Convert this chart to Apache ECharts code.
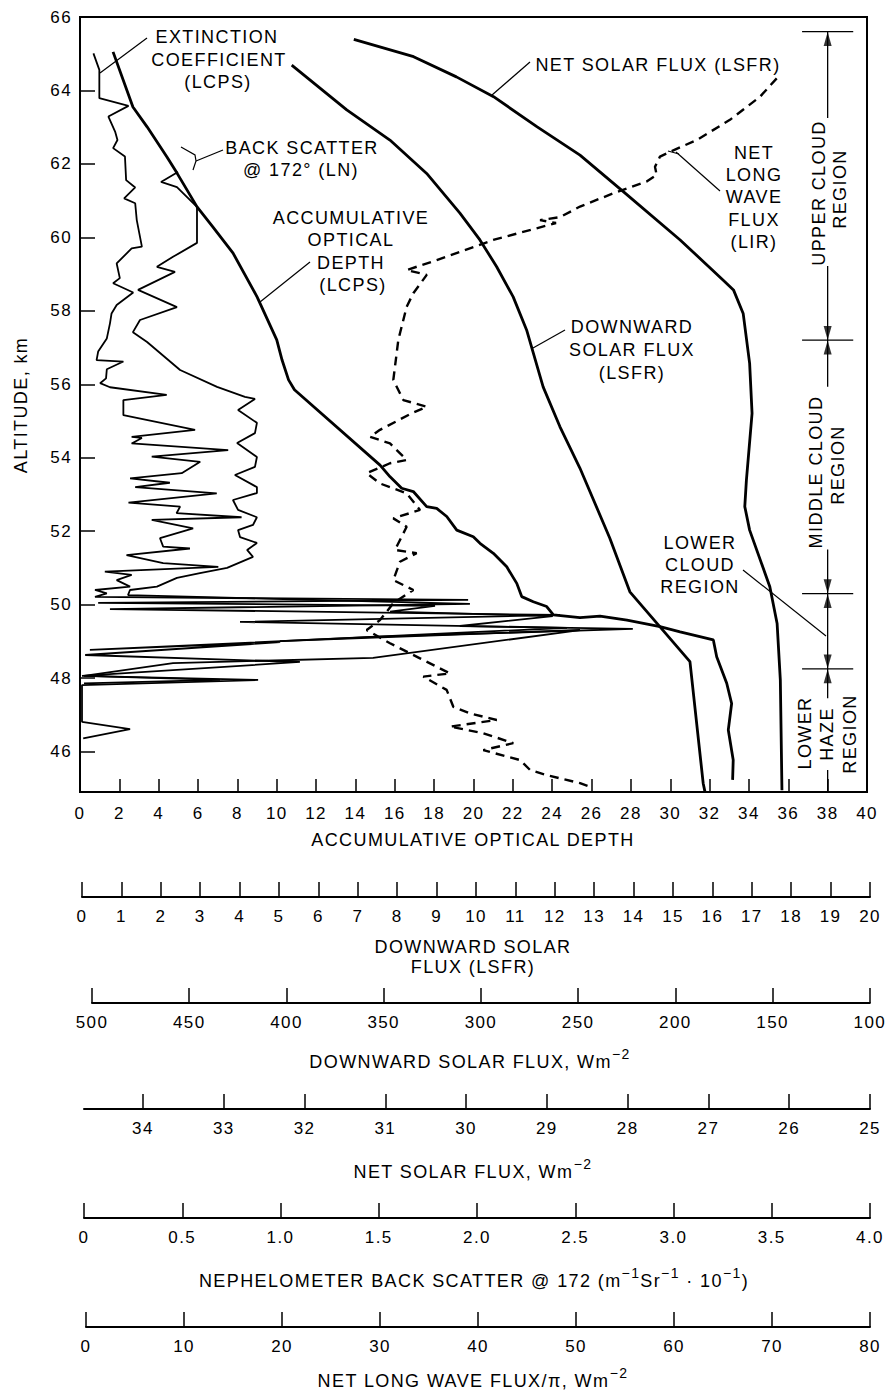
<!DOCTYPE html>
<html><head><meta charset="utf-8">
<script src="https://cdn.jsdelivr.net/npm/echarts@6/dist/echarts.min.js"></script>
<style>
html,body{margin:0;padding:0;background:#fff;}
#c{width:887px;height:1391px;}
#c svg text{letter-spacing:1.4px;}
</style></head><body><div id="c"></div>
<script>
// ---------- tick values ----------
const altitudeTicks = [46,48,50,52,54,56,58,60,62,64,66];
const opticalDepthTicks = [0,2,4,6,8,10,12,14,16,18,20,22,24,26,28,30,32,34,36,38,40];
const extinctionTicks = [0,1,2,3,4,5,6,7,8,9,10,11,12,13,14,15,16,17,18,19,20];
const downwardFluxTicks = [500,450,400,350,300,250,200,150,100];
const netSolarTicks = [34,33,32,31,30,29,28,27,26,25];
const backScatterTicks = [0,0.5,1.0,1.5,2.0,2.5,3.0,3.5,4.0];
const longWaveTicks = [0,10,20,30,40,50,60,70,80];

// ---------- series: [value, altitude km] ----------
const extinctionCoef = [[0.29,65.01],[0.44,64.56],[0.44,63.79],[1.18,63.58],[0.67,63.29],[0.84,62.88],[0.90,62.65],[0.79,62.43],[1.09,62.20],[1.12,61.56],[1.35,61.36],[1.07,61.06],[1.35,60.93],[1.39,60.47],[1.52,59.75],[1.26,59.70],[0.88,59.29],[0.96,58.89],[0.79,58.75],[1.30,58.50],[0.88,58.16],[0.75,57.93],[0.71,57.66],[0.63,57.25],[0.41,56.89],[0.37,56.66],[1.05,56.62],[0.63,56.41],[0.61,56.16],[0.46,56.03],[0.71,55.92],[2.15,55.71],[1.05,55.57],[1.05,55.16],[2.87,54.76],[1.26,54.57],[1.52,54.54],[1.26,54.39],[3.71,54.21],[1.77,54.03],[3.00,53.89],[2.53,53.58],[1.22,53.44],[2.23,53.32],[1.35,53.20],[3.42,53.03],[1.18,52.78],[2.49,52.67],[2.40,52.49],[4.05,52.38],[1.77,52.31],[2.82,52.08],[1.98,51.81],[2.06,51.58],[2.74,51.53],[1.13,51.35],[2.06,51.13],[3.46,51.03],[0.58,50.90],[1.26,50.81],[0.88,50.67],[1.22,50.49],[0.33,50.40],[0.63,50.31],[0.33,50.21],[9.80,50.13],[0.41,50.05],[8.96,49.97],[7.82,49.81],[11.95,49.69],[9.59,49.42],[13.98,49.34],[7.56,49.13],[0.20,48.77],[5.03,48.98],[0.08,48.63],[5.53,48.44],[0,48.06],[4.47,47.95],[0,47.81],[0,46.81],[1.22,46.61],[0.03,46.36]];
const backScatter = [[0.478,61.78],[0.392,61.51],[0.473,61.37],[0.575,60.83],[0.575,59.85],[0.453,59.47],[0.371,59.20],[0.463,59.06],[0.275,58.57],[0.473,58.10],[0.285,57.75],[0.249,57.42],[0.321,57.15],[0.489,56.39],[0.677,55.93],[0.819,55.66],[0.870,55.60],[0.784,55.30],[0.880,54.95],[0.870,54.67],[0.779,54.40],[0.880,54.02],[0.870,53.75],[0.768,53.53],[0.880,53.20],[0.880,53.04],[0.758,52.85],[0.784,52.58],[0.880,52.38],[0.860,52.17],[0.784,52.03],[0.794,51.84],[0.880,51.68],[0.830,51.49],[0.860,51.30],[0.728,51.00],[0.590,50.86],[0.473,50.73],[0.371,50.49],[0.234,50.40],[0.224,50.26],[1.964,50.02],[0.132,49.88],[2.422,49.72],[0.794,49.53],[2.458,49.37],[0.997,49.01],[2.524,49.31],[1.471,48.55],[0.453,48.41],[0,48.06],[0.692,47.95],[0,47.86]];
const opticalDepth = [[1.68,65.05],[2.69,63.55],[3.41,63.01],[4.42,62.19],[4.93,61.75],[5.95,60.83],[6.76,60.28],[7.78,59.57],[9.0,58.38],[10.0,57.21],[10.27,56.66],[10.6,56.12],[10.9,55.85],[15.25,53.80],[15.76,53.48],[16.35,53.17],[16.94,53.08],[17.62,52.67],[18.13,52.62],[18.64,52.40],[19.15,52.03],[19.99,51.85],[20.33,51.67],[21.01,51.40],[21.69,51.03],[22.20,50.58],[22.45,50.22],[23.04,50.08],[23.72,49.95],[24.06,49.72],[25.41,49.65],[26.43,49.69],[27.80,49.58],[29.48,49.40],[30.50,49.26],[32.19,49.04],[32.36,48.58],[32.87,47.86],[33.12,47.31],[32.95,46.59],[33.20,45.77],[33.17,45.23]];
const downwardSolar = [[397.3,64.69],[369.0,63.47],[346.8,62.65],[327.9,61.74],[310.8,60.66],[300.5,59.93],[291.9,59.20],[283.4,58.38],[276.5,57.48],[268.0,55.93],[259.4,54.85],[249.1,53.72],[233.7,51.81],[223.4,50.35],[192.5,48.45],[185.7,45.14],[184.8,44.91]];
const netSolar = [[31.39,65.39],[30.65,64.92],[30.12,64.37],[29.66,63.83],[29.12,63.01],[28.59,62.24],[28.05,61.24],[27.35,59.93],[26.82,58.84],[26.69,58.57],[26.57,57.93],[26.49,56.57],[26.46,55.21],[26.53,53.39],[26.55,52.67],[26.49,52.03],[26.24,50.49],[26.15,49.49],[26.11,47.95],[26.09,44.95]];
const netLongWave = [[70.48,64.33],[68.78,63.83],[65.71,63.20],[62.32,62.65],[59.59,62.33],[58.57,62.20],[58.06,61.92],[58.23,61.70],[57.21,61.52],[53.81,61.20],[50.41,60.84],[48.37,60.55],[46.33,60.47],[47.96,60.39],[41.56,59.93],[35.79,59.38],[32.72,59.11],[34.77,58.98],[33.40,58.48],[32.72,58.11],[31.87,57.21],[31.36,56.12],[32.38,55.57],[34.77,55.39],[33.23,55.21],[30.0,54.76],[28.98,54.57],[31.02,54.39],[32.72,53.94],[31.02,53.85],[28.64,53.58],[30.0,53.30],[32.72,53.03],[34.08,52.58],[31.36,52.35],[32.72,52.12],[32.04,51.76],[31.53,51.49],[33.74,51.40],[32.04,51.17],[31.36,50.67],[33.4,50.40],[31.36,50.04],[30.0,49.58],[28.64,49.31],[31.02,48.95],[34.08,48.54],[37.14,48.13],[34.42,48.04],[36.8,47.68],[37.48,47.22],[39.18,47.04],[41.91,46.86],[37.14,46.68],[40.54,46.50],[43.6,46.23],[40.54,46.04],[44.29,45.77],[45.31,45.50],[47.01,45.36],[50.41,45.14],[51.43,45.04]];

// ---------- region brackets (optical-depth axis units, km) ----------
const regionX = 38;
const regionBounds = [65.6, 57.2, 50.3, 48.25];
const regionBarHalf = 1.3;
const regionLineSegments = [[65.6,63.25],[59.22,55.93],[51.5,47.45],[45.5,44.92]];

const FONT = '"Liberation Sans", Arial, sans-serif';
const LS = 1.4;
const chart = echarts.init(document.getElementById('c'), null, {renderer:'svg', width:887, height:1391});

const TOP = 17, H = 775, YMIN = 44.9, YMAX = 66;
function mkGrid(left, width, show){ return {left:left, width:width, top:TOP, height:H, show:!!show, borderColor:'#000', borderWidth:2, backgroundColor:'transparent'}; }
const grids = [mkGrid(80,787,true), mkGrid(82,788), mkGrid(92,778), mkGrid(84,786), mkGrid(84,786), mkGrid(86,784)];

const lblStyle = {color:'#000', fontFamily:FONT, fontSize:17};
function secAxis(gi, min, max, ticks, offset, extra){
  return Object.assign({
    type:'value', gridIndex:gi, min:min, max:max, position:'bottom', offset:offset,
    axisLine:{show:true, onZero:false, lineStyle:{color:'#000', width:2}},
    axisTick:{show:true, inside:true, length:15, customValues:ticks, lineStyle:{color:'#000', width:1.5}},
    axisLabel:Object.assign({show:true, margin:11, customValues:ticks}, lblStyle),
    splitLine:{show:false}
  }, extra||{});
}
const xAxes = [
  {type:'value', gridIndex:0, min:0, max:40, position:'bottom',
   axisLine:{show:true, onZero:false, lineStyle:{color:'#000', width:2}},
   axisTick:{show:true, inside:true, length:13, customValues:opticalDepthTicks, lineStyle:{color:'#000', width:1.5}},
   axisLabel:Object.assign({margin:13, customValues:opticalDepthTicks}, lblStyle),
   splitLine:{show:false}},
  secAxis(1, 0, 20, extinctionTicks, 105),
  secAxis(2, 100, 500, downwardFluxTicks, 211, {inverse:true}),
  secAxis(3, 25, 34.73, netSolarTicks, 317, {inverse:true}),
  secAxis(4, 0, 4, backScatterTicks, 426, {axisLabel:Object.assign({show:true, margin:11, customValues:backScatterTicks, formatter:v=> v===0?'0':v.toFixed(1)}, lblStyle)}),
  secAxis(5, 0, 80, longWaveTicks, 535)
];
const yAxes = [0,1,2,3,4,5].map(i => i===0 ? {
  type:'value', gridIndex:0, min:YMIN, max:YMAX,
  axisLine:{show:true, onZero:false, lineStyle:{color:'#000', width:2}},
  axisTick:{show:true, inside:true, length:15, customValues:altitudeTicks, lineStyle:{color:'#000', width:1.5}},
  axisLabel:Object.assign({margin:8, customValues:altitudeTicks}, lblStyle),
  splitLine:{show:false}
} : {type:'value', gridIndex:i, min:YMIN, max:YMAX, show:false});

function lineSeries(name, data, gi, width, dashed){
  return {name:name, type:'line', xAxisIndex:gi, yAxisIndex:gi, data:data, symbol:'none', clip:false, smooth:false,
    lineStyle:{color:'#000', width:width, type: dashed ? [9,6] : 'solid'}, animation:false, silent:true};
}
const series = [
  lineSeries('Extinction coefficient (LCPS)', extinctionCoef, 1, 1.8),
  lineSeries('Back scatter @172° (LN)', backScatter, 4, 1.8),
  lineSeries('Accumulative optical depth (LCPS)', opticalDepth, 0, 2.8),
  lineSeries('Downward solar flux (LSFR)', downwardSolar, 2, 2.8),
  lineSeries('Net solar flux (LSFR)', netSolar, 3, 2.8),
  lineSeries('Net long wave flux (LIR)', netLongWave, 5, 2.4, true)
];
regionLineSegments.forEach(s => series.push(lineSeries('region', [[regionX,s[0]],[regionX,s[1]]], 0, 1.3)));
regionBounds.forEach(b => series.push(lineSeries('bar', [[regionX-regionBarHalf,b],[regionX+regionBarHalf,b]], 0, 1.3)));
series.push({type:'scatter', xAxisIndex:0, yAxisIndex:0, symbol:'triangle', symbolSize:[8,14], animation:false, silent:true,
  itemStyle:{color:'#000'}, data: regionBounds.map(b => [regionX, b-0.2])});
series.push({type:'scatter', xAxisIndex:0, yAxisIndex:0, symbol:'triangle', symbolSize:[8,14], symbolRotate:180, animation:false, silent:true,
  itemStyle:{color:'#000'}, data: regionBounds.slice(1).map(b => [regionX, b+0.2])});

// ---------- annotation text & leaders ----------
const annot = [
 ['EXTINCTION',217,37],['COEFFICIENT',219,60],['(LCPS)',218,82],
 ['BACK SCATTER',302,148],['@ 172° (LN)',301,170],
 ['ACCUMULATIVE',351,218],['OPTICAL',351,240],['DEPTH',351,263],['(LCPS)',353,285],
 ['NET SOLAR FLUX (LSFR)',658,65],
 ['NET',754,153],['LONG',754,175],['WAVE',754,197],['FLUX',754,220],['(LIR)',754,242],
 ['DOWNWARD',632,327],['SOLAR FLUX',632,350],['(LSFR)',632,373],
 ['LOWER',700,543],['CLOUD',700,565],['REGION',700,587],
 ['ACCUMULATIVE OPTICAL DEPTH',473,840],
 ['DOWNWARD SOLAR',473,947],['FLUX (LSFR)',473,967]
];
const leaders = [
 [[147,38],[100,73]],
 [[223,150],[196,161]], [[181,147],[195,155],[196,161],[193,170]],
 [[310,262],[260,302]],
 [[530,62],[492,95]],
 [[720,191],[676,152]], [[668,151],[679,154]],
 [[565,330],[533,348]],
 [[743,570],[826,636]]
];
const rotated = [
 ['UPPER CLOUD',819,193],['REGION',840,189],
 ['MIDDLE CLOUD',816,472],['REGION',838,465],
 ['LOWER',805,733],['HAZE',827,734],['REGION',850,734],
 ['ALTITUDE, km',21,405]
];
// titles with superscripts: pieces [text, isSup]
const supTitles = [
 [[['DOWNWARD SOLAR FLUX, Wm',0],['−2',1]], 470, 1062],
 [[['NET SOLAR FLUX, Wm',0],['−2',1]], 473, 1172],
 [[['NEPHELOMETER BACK SCATTER @ 172 (m',0],['−1',1],['Sr',0],['−1',1],[' · 10',0],['−1',1],[')',0]], 474, 1281],
 [[['NET LONG WAVE FLUX/π, Wm',0],['−2',1]], 473, 1381]
];
const MAIN = 18, SUP = 14;
const mctx = document.createElement('canvas').getContext('2d');
function measure(t, size){ mctx.font = size+'px '+FONT; return mctx.measureText(t).width + t.length*LS; }

const graphics = [];
function txt(a, size, rot){
  const g = {type:'text', x:a[1], y:a[2], silent:true,
    style:{text:a[0], x:0, y:0, align:'center', verticalAlign:'middle', font:size+'px '+FONT, fill:'#000'}};
  if (rot) g.rotation = Math.PI/2;
  return g;
}
annot.forEach(a => graphics.push(txt(a, MAIN)));
rotated.forEach(a => graphics.push(txt(a, MAIN, true)));
supTitles.forEach(st => {
  const pieces = st[0];
  const widths = pieces.map(p => measure(p[0], p[1] ? SUP : MAIN));
  const total = widths.reduce((s,w)=>s+w,0);
  let x = st[1] - total/2;
  pieces.forEach((p,i) => {
    graphics.push({type:'text', x:x, y: st[2] + (p[1] ? -8 : 0), silent:true,
      style:{text:p[0], x:0, y:0, align:'left', verticalAlign:'middle', font:(p[1]?SUP:MAIN)+'px '+FONT, fill:'#000'}});
    x += widths[i] - (p[1] ? 0 : 0);
  });
});
leaders.forEach(p => graphics.push({type:'polyline', silent:true, shape:{points:p}, style:{stroke:'#000', lineWidth:1.2, fill:null}}));

chart.setOption({
  backgroundColor:'#fff', animation:false,
  grid:grids, xAxis:xAxes, yAxis:yAxes, series:series, graphic:graphics
});
</script></body></html>
